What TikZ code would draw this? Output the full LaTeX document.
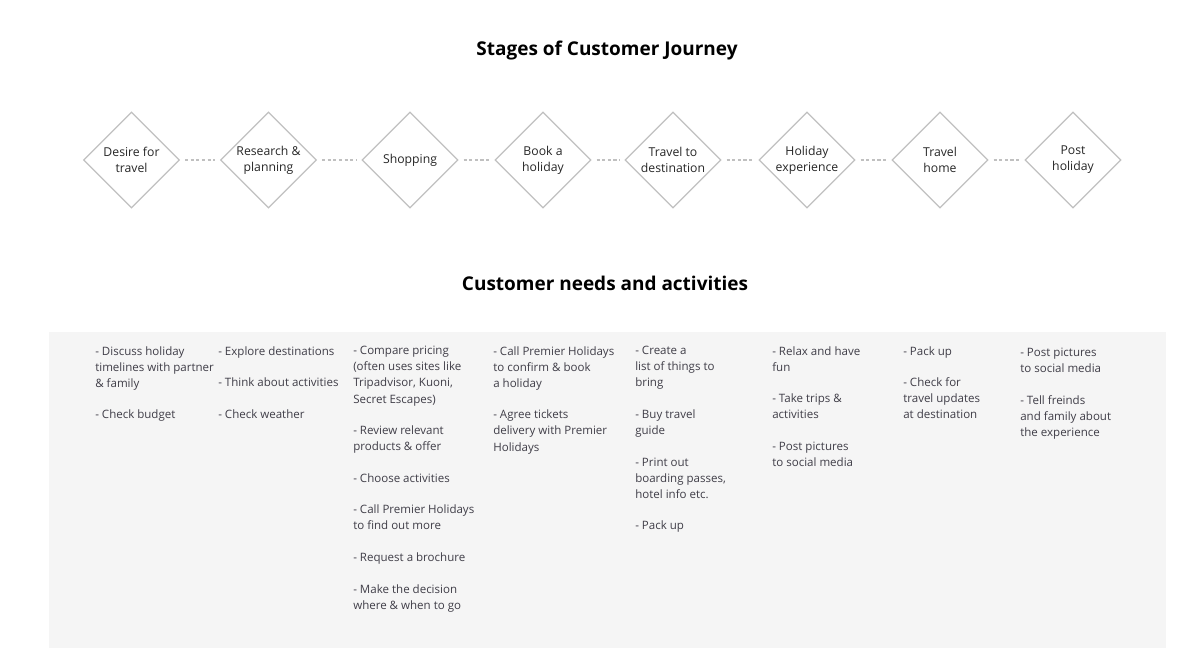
\documentclass[tikz,border=0pt]{standalone}
\usepackage{fontspec}
\setmainfont{Open Sans}
\usetikzlibrary{shapes.geometric}

\definecolor{stageline}{RGB}{192,192,192}
\definecolor{panelfill}{RGB}{245,245,245}
\definecolor{notetext}{RGB}{64,62,72}

\begin{document}
\begin{tikzpicture}[x=0.025cm, y=-0.025cm,
  stage/.style={draw=stageline, line width=0.9pt, shape=diamond, minimum width=2.4cm, minimum height=2.4cm, inner sep=0pt, align=center, text=black!85, font=\fontsize{8.7}{11.5}\selectfont},
  link/.style={draw=stageline, line width=0.8pt, dash pattern=on 2.2pt off 1.8pt, shorten <=3.5pt, shorten >=3.5pt},
  heading/.style={font=\bfseries\fontsize{13.5}{16}\selectfont, text=black},
  notes/.style={anchor=north west, align=left, inner sep=0pt, text=notetext, font=\fontsize{8.2}{11.45}\selectfont}]
\useasboundingbox (0,0) rectangle (1200,671);

\node[heading] (journey) at (607,51) {Stages of Customer Journey};

\node[stage] (desire) at (131.5,160) {Desire for\\travel};
\node[stage] (research) at (268.5,160) {Research \&\\planning};
\node[stage] (shopping) at (410,160) {Shopping};
\node[stage] (book) at (543,160) {Book a\\holiday};
\node[stage] (totravel) at (673,160) {Travel to\\destination};
\node[stage] (experience) at (807,160) {Holiday\\experience};
\node[stage] (home) at (940,160) {Travel\\home};
\node[stage] (post) at (1073,160) {Post\\holiday};

\draw[link] (desire) -- (research);
\draw[link] (research) -- (shopping);
\draw[link] (shopping) -- (book);
\draw[link] (book) -- (totravel);
\draw[link] (totravel) -- (experience);
\draw[link] (experience) -- (home);
\draw[link] (home) -- (post);

\node[heading] (needs) at (605,283) {Customer needs and activities};

\fill[panelfill] (49,332) rectangle (1166,648);

\node[notes] (desirenotes) at (95,346) {- Discuss holiday\\timelines with partner\\\& family\\[11pt]- Check budget};
\node[notes] (researchnotes) at (218,346) {- Explore destinations\\[11pt]- Think about activities\\[11pt]- Check weather};
\node[notes] (shoppingnotes) at (353,346) {- Compare pricing\\(often uses sites like\\Tripadvisor, Kuoni,\\Secret Escapes)\\[11pt]- Review relevant\\products \& offer\\[11pt]- Choose activities\\[11pt]- Call Premier Holidays\\to find out more\\[11pt]- Request a brochure\\[11pt]- Make the decision\\where \& when to go};
\node[notes] (booknotes) at (493,346) {- Call Premier Holidays\\to confirm \& book\\a holiday\\[11pt]- Agree tickets\\delivery with Premier\\Holidays};
\node[notes] (totravelnotes) at (635,346) {- Create a\\list of things to\\bring\\[11pt]- Buy travel\\guide\\[11pt]- Print out\\boarding passes,\\hotel info etc.\\[11pt]- Pack up};
\node[notes] (experiencenotes) at (772,346) {- Relax and have\\fun\\[11pt]- Take trips \&\\activities\\[11pt]- Post pictures\\to social media};
\node[notes] (homenotes) at (903,346) {- Pack up\\[11pt]- Check for\\travel updates\\at destination};
\node[notes] (postnotes) at (1020,348) {- Post pictures\\to social media\\[11pt]- Tell freinds\\and family about\\the experience};

\end{tikzpicture}
\end{document}
